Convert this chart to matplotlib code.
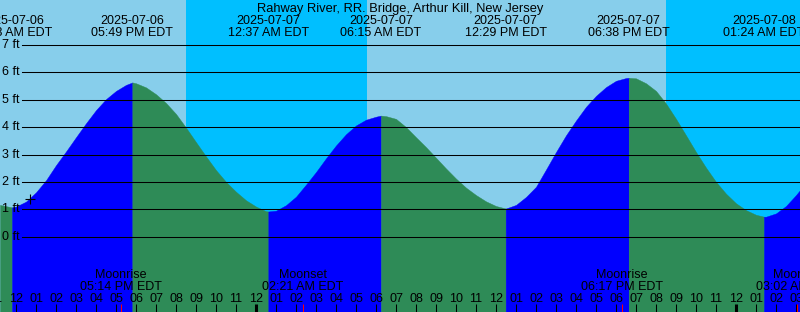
import numpy as np
import pandas as pd
import matplotlib
matplotlib.use('Agg')
import matplotlib.pyplot as plt
from matplotlib.transforms import blended_transform_factory

plt.rcParams['font.family'] = ['Liberation Sans', 'DejaVu Sans']

station = "Rahway River, RR. Bridge, Arthur Kill, New Jersey"
start = pd.Timestamp('2025-07-06 11:12')
end = pd.Timestamp('2025-07-08 03:12')
midnight = pd.Timestamp('2025-07-07 00:00')

# tide height (ft), every 30 min from 12:00 07-06 to 03:00 07-08
sample_heights = [1.10, 1.28, 1.62, 2.06, 2.61, 3.11, 3.63, 4.14, 4.62, 5.02, 5.32, 5.54,
                  5.60, 5.45, 5.20, 4.88, 4.48, 3.98, 3.45, 2.93, 2.43, 2.00, 1.64, 1.33,
                  1.10, 0.93, 0.95, 1.15, 1.46, 1.90, 2.36, 2.86, 3.33, 3.74, 4.06, 4.27,
                  4.38, 4.40, 4.30, 4.00, 3.63, 3.27, 2.88, 2.49, 2.12, 1.79, 1.52, 1.29,
                  1.12, 1.03, 1.16, 1.45, 1.82, 2.45, 3.09, 3.70, 4.24, 4.74, 5.14, 5.46,
                  5.69, 5.79, 5.78, 5.60, 5.32, 4.86, 4.30, 3.70, 3.09, 2.52, 2.00, 1.57,
                  1.22, 0.97, 0.80, 0.73, 0.85, 1.12, 1.52]
edge_heights = [1.16, 1.70]   # at start / end of window

# highs and lows
event_times = ['2025-07-06 11:48', '2025-07-06 17:49', '2025-07-07 00:37', '2025-07-07 06:15',
               '2025-07-07 12:29', '2025-07-07 18:38', '2025-07-08 01:24']
event_heights = [1.07, 5.63, 0.92, 4.42, 1.03, 5.80, 0.73]

sun_times = ['2025-07-06 20:30', '2025-07-07 05:33', '2025-07-07 20:30']   # set, rise, set
moon_times = ['2025-07-06 17:14', '2025-07-07 02:21', '2025-07-07 18:17', '2025-07-08 03:02']
moon_kinds = ['Moonrise', 'Moonset', 'Moonrise', 'Moonset']
now_time = '2025-07-06 12:42'
now_height = 1.38

def hrs(ts):
    return (pd.to_datetime(ts) - midnight) / pd.Timedelta(hours=1)

t0, t1 = hrs(start), hrs(end)
sample_t = np.asarray(hrs(pd.date_range('2025-07-06 12:00', periods=len(sample_heights), freq='30min')))
ev_t = np.array([hrs(s) for s in event_times])

t = np.concatenate([[t0], sample_t, ev_t, [t1]])
h = np.concatenate([[edge_heights[0]], sample_heights, event_heights, [edge_heights[1]]])
order = np.argsort(t)
t, h = t[order], h[order]

W, H = 800, 312
fig = plt.figure(figsize=(W / 100, H / 100), dpi=100)
ax = fig.add_axes([0, 0, 1, 1])
ybot = (236.7 - 312) / 27.4
ytop = 236.7 / 27.4
ax.set_xlim(t0, t1)
ax.set_ylim(ybot, ytop)
ax.axis('off')

day_c, night_c = '#87CEEB', '#00BFFF'
rise_c, fall_c = '#0000FF', '#2E8B57'
ax.axvspan(t0, t1, color=day_c, lw=0)
st = [hrs(s) for s in sun_times]
ax.axvspan(st[0], st[1], color=night_c, lw=0)
ax.axvspan(st[2], t1 + 1, color=night_c, lw=0)

bounds = [t0] + list(ev_t) + [t1]
bh = [edge_heights[0]] + list(event_heights) + [edge_heights[1]]
for k in range(len(bounds) - 1):
    m = (t >= bounds[k]) & (t <= bounds[k + 1])
    c = rise_c if bh[k + 1] > bh[k] else fall_c
    ax.fill_between(t[m], h[m], ybot, color=c, lw=0.3, edgecolor=c)

for v in range(0, 8):
    ax.axhline(v, xmin=22 / W, xmax=1, color='black', lw=0.75)
    ax.text(20 / W, v, f'{v} ft', transform=blended_transform_factory(fig.transFigure, ax.transData),
            ha='right', va='center', fontsize=9)

ax.plot(hrs(now_time), now_height, marker='+', color='black', ms=7, mew=0.8)

bx = blended_transform_factory(ax.transData, fig.transFigure)
fy = lambda py: 1 - py / H
ax.text(0.5, fy(12), station, transform=fig.transFigure, ha='center', va='baseline', fontsize=9.3)
for s, tt in zip(event_times, ev_t):
    ts = pd.Timestamp(s)
    ax.text(tt, fy(24), ts.strftime('%Y-%m-%d'), transform=bx, ha='center', va='baseline', fontsize=9)
    ax.text(tt, fy(36.5), ts.strftime('%I:%M %p EDT'), transform=bx, ha='center', va='baseline', fontsize=9)

for s, kind in zip(moon_times, moon_kinds):
    tt = hrs(s)
    ax.text(tt, fy(278.5), kind, transform=bx, ha='center', va='baseline', fontsize=9)
    ax.text(tt, fy(290.5), pd.Timestamp(s).strftime('%I:%M %p EDT'), transform=bx,
            ha='center', va='baseline', fontsize=9)
    ax.plot([tt, tt], [fy(304), 0], transform=bx, color='red', lw=0.75, solid_capstyle='butt')

for k in range(-13, 29):
    lab = (k % 12) or 12
    ax.text(k, fy(302.5), f'{lab:02d}', transform=bx, ha='center', va='baseline', fontsize=9)
    thick = (k % 24 == 0)
    ax.plot([k, k], [fy(304), 0], transform=bx, color='black',
            lw=2.2 if thick else 0.75, solid_capstyle='butt')

fig.savefig('out.png', dpi=100)
